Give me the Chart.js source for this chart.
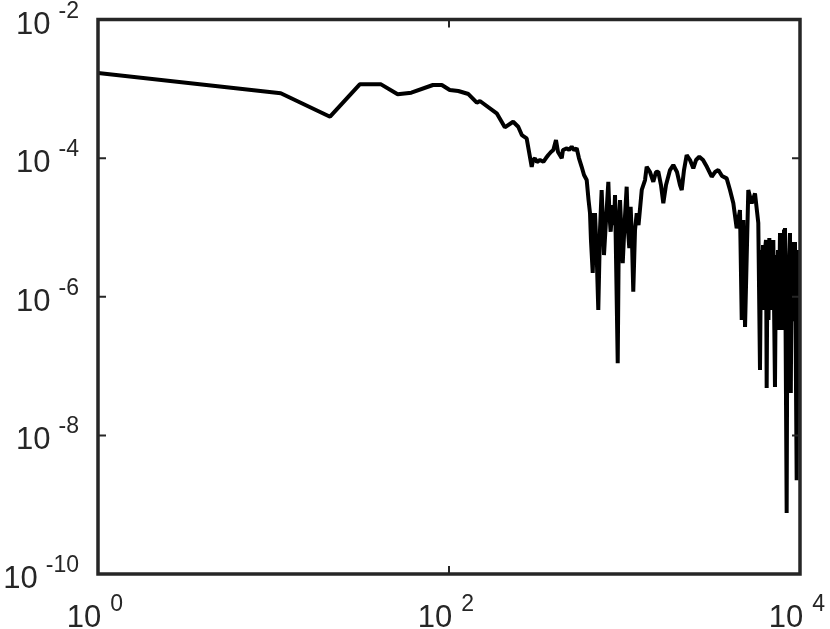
<!DOCTYPE html>
<html>
<head>
<meta charset="utf-8">
<script src="https://cdn.jsdelivr.net/npm/chart.js@4"></script>
<style>
html, body { margin: 0; padding: 0; background: #ffffff; }
#c { display: block; }
</style>
</head>
<body>
<canvas id="c" width="830" height="629"></canvas>
<script>
// ---- data ----
const xValues = [
  // smooth start
  1, 11, 21, 31, 41, 51, 61, 81, 91, 101, 113, 129, 144, 150, 187, 208, 232, 248, 260, 277,
  // plateau near 1e-4
  296, 301, 309, 317, 330, 345, 357, 368, 381, 393, 407, 418, 439, 446, 469, 483, 500, 516, 534, 550, 570, 588, 609,
  // first noisy band
  624, 636, 644, 659, 670, 679, 693, 709, 725, 741, 754, 764, 785, 809, 821, 834, 854, 871, 883, 915,
  930, 943, 962, 977, 1000, 1029, 1047, 1065, 1084, 1103, 1122, 1148, 1174, 1202, 1254, 1309, 1338,
  // hump
  1398, 1459, 1512, 1558, 1614, 1664, 1724, 1817, 1897, 1991, 2071, 2119, 2183, 2261, 2362, 2466, 2556, 2668,
  2802, 2952, 3140, 3279, 3424, 3594, 3821, 3991, 4170, 4357, 4550, 4655, 4755, 4862, 5075, 5306, 5541, 5786,
  // final noisy band
  5916, 5996, 6074, 6155, 6237, 6319, 6402, 6458, 6529, 6615, 6686, 6791, 6881, 6954, 7046, 7202, 7299, 7396,
  7493, 7572, 7692, 7773, 7864, 7949, 8033, 8107, 8213, 8395, 8489, 8578, 8652, 8770, 8864, 8969, 9065, 9160,
  9245, 9365, 9573, 9678, 9779, 9869, 10000
];
const yValues = [
  1.69e-3, 8.61e-4, 3.96e-4, 1.16e-3, 1.16e-3, 8.33e-4, 8.79e-4, 1.135e-3, 1.135e-3, 9.6e-4,
  9.3e-4, 8.41e-4, 6.3e-4, 6.67e-4, 4.43e-4, 2.78e-4, 3.35e-4, 2.84e-4, 2.15e-4, 1.93e-4,

  7.5e-5, 9.39e-5, 9.93e-5, 8.79e-5, 9.39e-5, 8.87e-5, 1.003e-4, 1.11e-4, 1.225e-4, 1.31e-4,
  1.82e-4, 1.225e-4, 9.93e-5, 1.31e-4, 1.385e-4, 1.31e-4, 1.46e-4, 1.31e-4, 1.385e-4, 1.003e-4,
  7.5e-5, 5.70e-5, 4.83e-5,

  2.48e-5, 1.61e-5, 6.58e-6, 2.2e-6, 9.17e-6, 1.61e-5, 4.72e-6, 6.43e-7, 9.17e-6, 3.47e-5,
  1.08e-5, 4.0e-6, 1.28e-5, 4.56e-5, 1.51e-5, 8.67e-6, 2.10e-5, 1.08e-5, 2.94e-5, 1.10e-7,
  1.51e-5, 2.48e-5, 7.77e-6, 3.06e-6, 1.08e-5, 3.87e-5, 9.17e-6, 5.05e-6, 1.99e-5, 6.58e-6,
  1.18e-6, 9.17e-6, 1.61e-5, 1.08e-5, 3.47e-5, 4.83e-5, 7.5e-5,

  6.30e-5, 4.56e-5, 6.30e-5, 6.37e-5, 4.09e-5, 2.23e-5, 4.09e-5, 6.73e-5, 7.95e-5, 6.30e-5,
  4.09e-5, 3.47e-5, 6.73e-5, 1.11e-4, 9.39e-5, 7.13e-5, 9.39e-5, 1.047e-4, 9.39e-5, 7.44e-5,
  5.39e-5, 6.30e-5, 6.73e-5, 5.52e-5, 5.11e-5, 3.47e-5, 2.23e-5, 9.7e-6, 1.78e-5, 4.61e-7,
  1.28e-5, 3.66e-7, 3.47e-5, 2.23e-5, 3.1e-5, 1.16e-5,

  8.75e-8, 4.72e-6, 8.96e-7, 5.57e-6, 6.43e-7, 4.72e-6, 6.58e-6, 4.81e-8, 4.72e-6, 4.61e-7,
  7.03e-6, 1.25e-6, 5.57e-6, 6.43e-7, 6.58e-6, 4.98e-8, 4.0e-6, 8.96e-7, 4.72e-6, 3.31e-7,
  8.3e-6, 1.25e-6, 3.31e-7, 4.72e-6, 8.96e-7, 9.17e-6, 9.8e-6, 7.57e-10, 4.0e-6, 4.61e-7,
  3.39e-6, 8.3e-6, 4.08e-8, 6.15e-6, 8.96e-7, 4.72e-6, 4.61e-7, 6.15e-6, 2.26e-9, 3.39e-6,
  3.31e-7, 4.72e-6, 1.25e-6
];
const xTickExponents = [0, 2, 4];
const yTickExponents = [-10, -8, -6, -4, -2];
const xLimits = [1, 10000];
const yLimits = [1e-10, 1e-2];

const points = xValues.map((x, i) => ({ x: x, y: yValues[i] }));

const INK = '#262626';
const FONT = '"Liberation Sans", Arial, Helvetica, sans-serif';

const framePlugin = {
  id: 'matlabFrame',
  afterDatasetsDraw(chart) {
    const ctx = chart.ctx;
    const a = chart.chartArea;
    const xs = chart.scales.x;
    const ys = chart.scales.y;
    ctx.save();
    ctx.strokeStyle = INK;
    ctx.lineCap = 'butt';
    // inward ticks
    const tl = 8;
    ctx.lineWidth = 2;
    ctx.beginPath();
    yTickExponents.forEach(e => {
      const py = ys.getPixelForValue(Math.pow(10, e));
      ctx.moveTo(a.left, py); ctx.lineTo(a.left + tl, py);
      ctx.moveTo(a.right, py); ctx.lineTo(a.right - tl, py);
    });
    xTickExponents.forEach(e => {
      const px = xs.getPixelForValue(Math.pow(10, e));
      ctx.moveTo(px, a.bottom); ctx.lineTo(px, a.bottom - tl);
      ctx.moveTo(px, a.top); ctx.lineTo(px, a.top + tl);
    });
    ctx.stroke();
    // box
    ctx.lineWidth = 3.5;
    ctx.lineJoin = 'miter';
    ctx.strokeRect(a.left, a.top, a.right - a.left, a.bottom - a.top);

    // tick labels 10^e
    ctx.fillStyle = INK;
    ctx.textBaseline = 'alphabetic';
    ctx.textAlign = 'left';
    const baseFont = '31px ' + FONT;
    const expFont = '23px ' + FONT;

    yTickExponents.forEach(e => {
      const py = ys.getPixelForValue(Math.pow(10, e));
      const expStr = String(e);
      ctx.font = expFont;
      const ew = ctx.measureText(expStr).width;
      const expLeft = 79 - ew;
      ctx.fillText(expStr, expLeft, py - 2);
      ctx.font = baseFont;
      const bw = ctx.measureText('10').width;
      const gap = 8;
      ctx.fillText('10', Math.max(0, expLeft - gap - bw), py + 14);
    });

    xTickExponents.forEach(e => {
      const px = xs.getPixelForValue(Math.pow(10, e));
      const expStr = String(e);
      ctx.font = baseFont;
      const bw = ctx.measureText('10').width;
      ctx.font = expFont;
      const ew = ctx.measureText(expStr).width;
      const gap = 9;
      const total = bw + gap + ew;
      const start = px - total / 2 - 3;
      ctx.font = baseFont;
      ctx.fillText('10', start, 627);
      ctx.font = expFont;
      ctx.fillText(expStr, start + bw + gap, 611);
    });
    ctx.restore();
  }
};

new Chart(document.getElementById('c'), {
  type: 'line',
  data: {
    datasets: [{
      data: points,
      borderColor: '#000000',
      borderWidth: 4,
      pointRadius: 0,
      fill: false,
      tension: 0,
      borderJoinStyle: 'bevel'
    }]
  },
  options: {
    responsive: false,
    animation: false,
    devicePixelRatio: 1,
    layout: { padding: { left: 98, top: 19.5, right: 30, bottom: 55 } },
    plugins: { legend: { display: false }, tooltip: { enabled: false } },
    scales: {
      x: { type: 'logarithmic', min: xLimits[0], max: xLimits[1], display: false },
      y: { type: 'logarithmic', min: yLimits[0], max: yLimits[1], display: false }
    }
  },
  plugins: [framePlugin]
});
</script>
</body>
</html>
